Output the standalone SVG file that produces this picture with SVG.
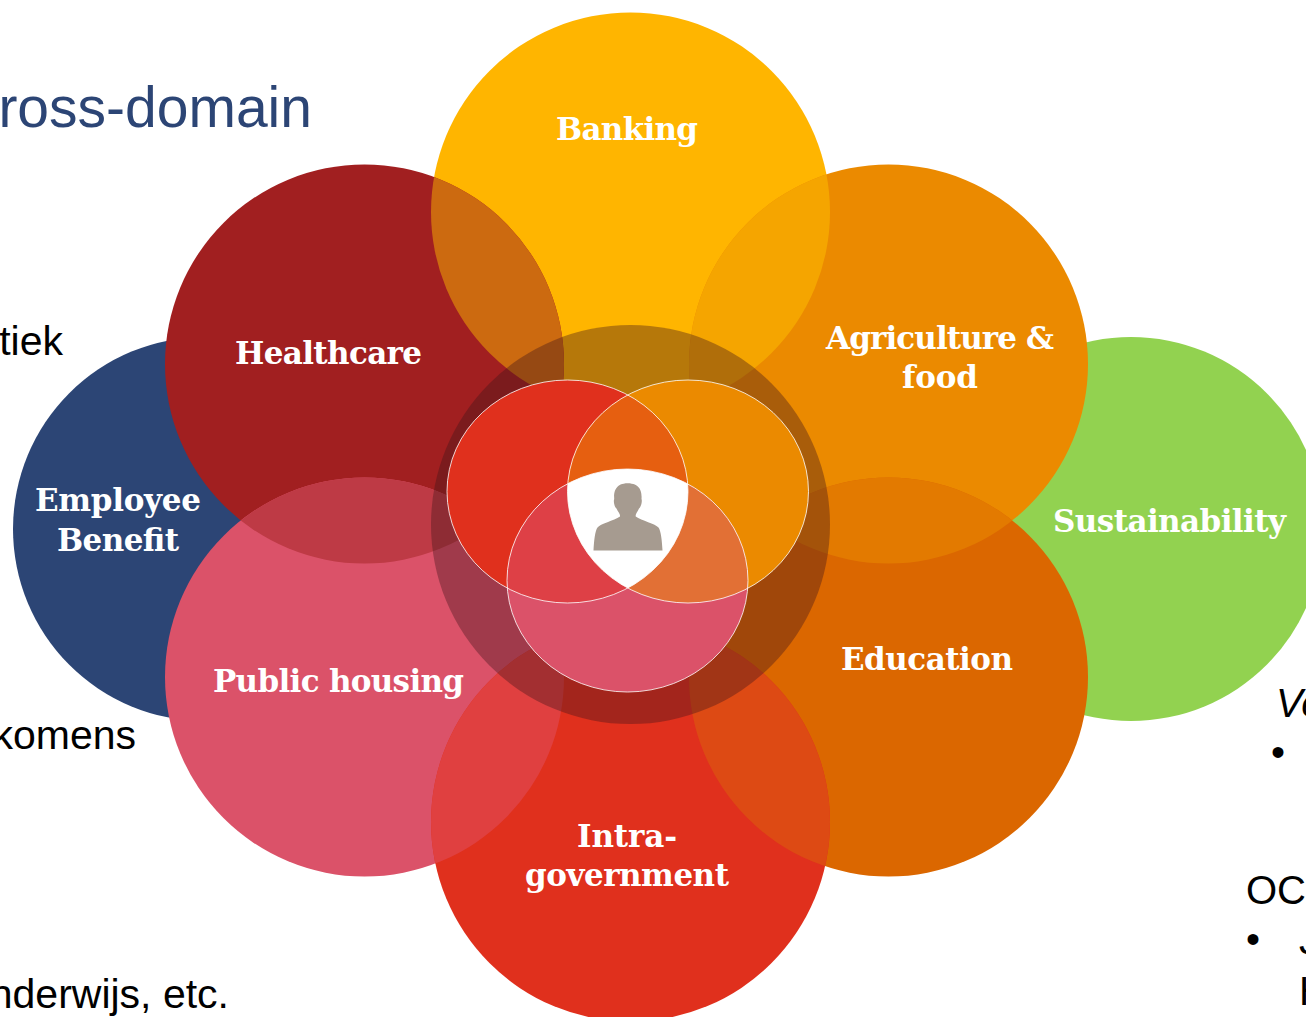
<svg xmlns="http://www.w3.org/2000/svg" width="1306" height="1017" viewBox="0 0 1306 1017">
<style>
.bg{font-family:"Liberation Sans",Arial,sans-serif;font-size:40px;fill:#000}
.big{font-size:41px}
.end{text-anchor:end}
.title{font-size:57px;fill:#2c4575}
.lb{font-family:"DejaVu Serif",serif;font-weight:700;font-size:31px;fill:#fff;text-anchor:middle}
.in{stroke:#fff;stroke-opacity:.8;stroke-width:1;fill:none}
</style>
<defs>
<clipPath id="cBank"><circle cx="630.500" cy="212" r="199.500"/></clipPath>
<clipPath id="cHealth"><circle cx="364.500" cy="364" r="199.500"/></clipPath>
<clipPath id="cAgri"><circle cx="888.500" cy="364" r="199.500"/></clipPath>
<clipPath id="cPub"><circle cx="364.500" cy="677" r="199.500"/></clipPath>
<clipPath id="cEdu"><circle cx="888.500" cy="677" r="199.500"/></clipPath>
<clipPath id="eR"><ellipse cx="567.500" cy="491.500" rx="120.500" ry="111.500"/></clipPath>
<clipPath id="eO"><ellipse cx="688" cy="491.500" rx="120.500" ry="111.500"/></clipPath>
</defs>
<rect width="1306" height="1017" fill="#fff"/>
<g id="background-text">
<text class="bg title end" x="312" y="127">ross-domain</text>
<text class="bg big end" x="63" y="355">tiek</text>
<text class="bg big end" x="136" y="749">komens</text>
<text class="bg big end" x="229" y="1008">nderwijs, etc.</text>
<text class="bg" x="1276" y="717" font-style="italic">Ve</text>
<text class="bg" x="1271" y="766">•</text>
<text class="bg" x="1246" y="904">OC</text>
<text class="bg" x="1246" y="953">•</text>
<text class="bg" x="1299" y="954">J</text>
<text class="bg" x="1299" y="1005">H</text>
</g>
<g id="employee"><circle cx="205" cy="529" r="192" fill="#2c4575"/><text class="lb" x="118" y="511" textLength="166">Employee</text><text class="lb" x="118" y="551" textLength="122">Benefit</text></g>
<g id="sustainability"><circle cx="1131" cy="529" r="192" fill="#92d250"/><text class="lb" x="1169.500" y="532" textLength="233">Sustainability</text></g>
<g id="banking"><circle cx="630.500" cy="212" r="199.500" fill="#ffb500"/><text class="lb" x="627" y="140" textLength="142">Banking</text></g>
<g id="healthcare"><circle cx="364.500" cy="364" r="199.500" fill="#a11f20"/><text class="lb" x="328.500" y="364" textLength="187">Healthcare</text></g>
<g id="agriculture"><circle cx="888.500" cy="364" r="199.500" fill="#eb8a00"/><text class="lb" x="940" y="349" textLength="228">Agriculture &amp;</text><text class="lb" x="940" y="388" textLength="76">food</text></g>
<g id="public-housing"><circle cx="364.500" cy="677" r="199.500" fill="#db5269"/><text class="lb" x="338.500" y="692" textLength="251">Public housing</text></g>
<g id="education"><circle cx="888.500" cy="677" r="199.500" fill="#db6700"/><text class="lb" x="927" y="670" textLength="172">Education</text></g>
<g id="intra-government"><circle cx="630.500" cy="822" r="199.500" fill="#e0301d"/><text class="lb" x="627" y="847" textLength="100">Intra-</text><text class="lb" x="627" y="886" textLength="204">government</text></g>
<g id="overlaps">
<circle cx="364.500" cy="364" r="199.500" fill="#cc6a10" clip-path="url(#cBank)"/>
<circle cx="888.500" cy="364" r="199.500" fill="#f5a500" clip-path="url(#cBank)"/>
<circle cx="364.500" cy="677" r="199.500" fill="#be3a45" clip-path="url(#cHealth)"/>
<circle cx="888.500" cy="677" r="199.500" fill="#e37a00" clip-path="url(#cAgri)"/>
<circle cx="630.500" cy="822" r="199.500" fill="#e04040" clip-path="url(#cPub)"/>
<circle cx="630.500" cy="822" r="199.500" fill="#dd4a14" clip-path="url(#cEdu)"/>
</g>
<g id="ring"><circle cx="630.500" cy="524.500" r="199.500" fill="#3f1419" fill-opacity=".38"/></g>
<g id="center">
<ellipse cx="567.500" cy="491.500" rx="120.500" ry="111.500" fill="#e0301d"/>
<ellipse cx="688" cy="491.500" rx="120.500" ry="111.500" fill="#eb8a00"/>
<ellipse cx="627.500" cy="580.500" rx="120.500" ry="111.500" fill="#db5269"/>
<ellipse cx="688" cy="491.500" rx="120.500" ry="111.500" fill="#e65f10" clip-path="url(#eR)"/>
<ellipse cx="627.500" cy="580.500" rx="120.500" ry="111.500" fill="#de4046" clip-path="url(#eR)"/>
<ellipse cx="627.500" cy="580.500" rx="120.500" ry="111.500" fill="#e27035" clip-path="url(#eO)"/>
<g clip-path="url(#eR)"><ellipse cx="627.500" cy="580.500" rx="120.500" ry="111.500" fill="#fff" clip-path="url(#eO)"/></g>
<ellipse class="in" cx="567.500" cy="491.500" rx="120.500" ry="111.500"/>
<ellipse class="in" cx="688" cy="491.500" rx="120.500" ry="111.500"/>
<ellipse class="in" cx="627.500" cy="580.500" rx="120.500" ry="111.500"/>
<path id="person" fill="#a69b90" d="M593.500 550.500C594 541 595 531 597.500 527.500C600 524 614 520.500 620 516.500C620.500 514 618 512 616.500 508.500C614.500 507.500 613.200 501 614.200 499C613.800 493 614.500 483.500 627.700 483.300C641 483.500 642 493 641.500 499C642.500 501 641 507.500 639 508.500C637.500 512 635.200 514 635.700 516.500C641.500 520.500 655.500 524 658.500 527.500C661 531 662 541 662.500 550.500Z"/>
</g>
</svg>
